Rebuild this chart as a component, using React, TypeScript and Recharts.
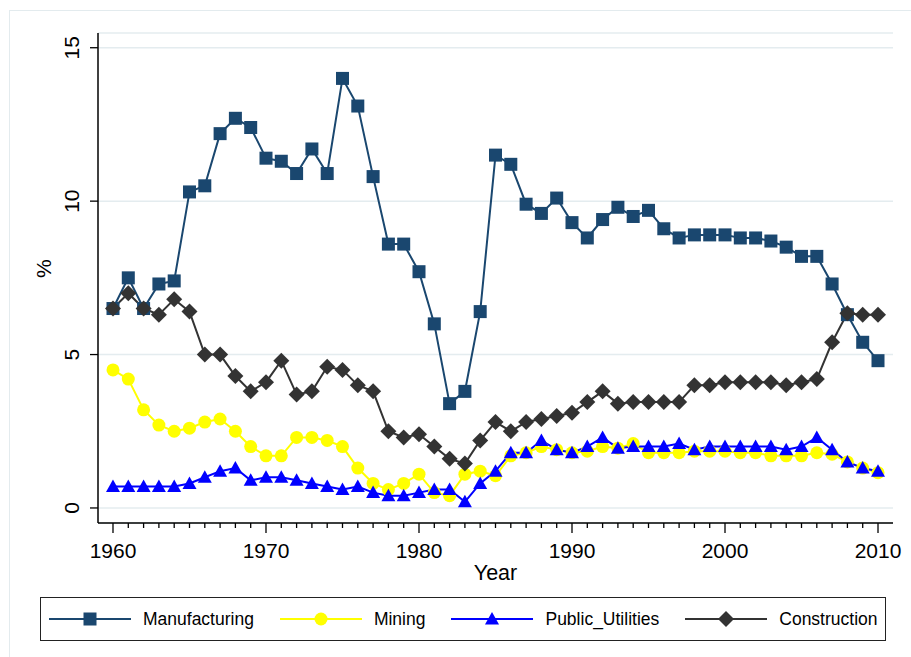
import { LineChart, Line, XAxis, YAxis, CartesianGrid, Legend } from "recharts";

// years on the x axis
const years = [
  1960, 1961, 1962, 1963, 1964, 1965, 1966, 1967, 1968, 1969,
  1970, 1971, 1972, 1973, 1974, 1975, 1976, 1977, 1978, 1979,
  1980, 1981, 1982, 1983, 1984, 1985, 1986, 1987, 1988, 1989,
  1990, 1991, 1992, 1993, 1994, 1995, 1996, 1997, 1998, 1999,
  2000, 2001, 2002, 2003, 2004, 2005, 2006, 2007, 2008, 2009, 2010,
];

const manufacturing = [
  6.5, 7.5, 6.5, 7.3, 7.4, 10.3, 10.5, 12.2, 12.7, 12.4,
  11.4, 11.3, 10.9, 11.7, 10.9, 14.0, 13.1, 10.8, 8.6, 8.6,
  7.7, 6.0, 3.4, 3.8, 6.4, 11.5, 11.2, 9.9, 9.6, 10.1,
  9.3, 8.8, 9.4, 9.8, 9.5, 9.7, 9.1, 8.8, 8.9, 8.9,
  8.9, 8.8, 8.8, 8.7, 8.5, 8.2, 8.2, 7.3, 6.3, 5.4, 4.8,
];

const mining = [
  4.5, 4.2, 3.2, 2.7, 2.5, 2.6, 2.8, 2.9, 2.5, 2.0,
  1.7, 1.7, 2.3, 2.3, 2.2, 2.0, 1.3, 0.8, 0.6, 0.8,
  1.1, 0.5, 0.4, 1.1, 1.2, 1.05, 1.7, 1.8, 2.0, 1.9,
  1.8, 1.85, 2.0, 1.95, 2.1, 1.8, 1.8, 1.8, 1.85, 1.85,
  1.85, 1.8, 1.8, 1.7, 1.7, 1.7, 1.8, 1.75, 1.5, 1.3, 1.15,
];

const publicUtilities = [
  0.7, 0.7, 0.7, 0.7, 0.7, 0.8, 1.0, 1.2, 1.3, 0.9,
  1.0, 1.0, 0.9, 0.8, 0.7, 0.6, 0.7, 0.5, 0.4, 0.4,
  0.5, 0.6, 0.6, 0.2, 0.8, 1.2, 1.8, 1.8, 2.2, 1.9,
  1.8, 2.0, 2.3, 1.95, 2.0, 2.0, 2.0, 2.1, 1.9, 2.0,
  2.0, 2.0, 2.0, 2.0, 1.9, 2.0, 2.3, 1.9, 1.5, 1.3, 1.2,
];

const construction = [
  6.5, 7.0, 6.5, 6.3, 6.8, 6.4, 5.0, 5.0, 4.3, 3.8,
  4.1, 4.8, 3.7, 3.8, 4.6, 4.5, 4.0, 3.8, 2.5, 2.3,
  2.4, 2.0, 1.6, 1.45, 2.2, 2.8, 2.5, 2.8, 2.9, 3.0,
  3.1, 3.45, 3.8, 3.4, 3.45, 3.45, 3.45, 3.45, 4.0, 4.0,
  4.1, 4.1, 4.1, 4.1, 4.0, 4.1, 4.2, 5.4, 6.35, 6.3, 6.3,
];

const yTicks = [0, 5, 10, 15];

const data = years.map((year, i) => ({
  year,
  Manufacturing: manufacturing[i],
  Mining: mining[i],
  Public_Utilities: publicUtilities[i],
  Construction: construction[i],
}));

const FONT = "'Liberation Sans', Arial, Helvetica, sans-serif";

type Shape = "square" | "circle" | "triangle" | "diamond";

const series: { key: string; color: string; shape: Shape }[] = [
  { key: "Manufacturing", color: "#1a476f", shape: "square" },
  { key: "Mining", color: "#ffff00", shape: "circle" },
  { key: "Public_Utilities", color: "#0000ff", shape: "triangle" },
  { key: "Construction", color: "#333333", shape: "diamond" },
];

const marker = (shape: Shape, cx: number, cy: number, color: string, key?: any) => {
  if (shape === "square")
    return <rect key={key} x={cx - 6.5} y={cy - 6.5} width={13} height={13} fill={color} />;
  if (shape === "circle")
    return <circle key={key} cx={cx} cy={cy} r={6.5} fill={color} />;
  if (shape === "triangle")
    return (
      <polygon
        key={key}
        points={`${cx},${cy - 7} ${cx - 7},${cy + 5.5} ${cx + 7},${cy + 5.5}`}
        fill={color}
      />
    );
  return (
    <polygon
      key={key}
      points={`${cx},${cy - 8} ${cx + 8},${cy} ${cx},${cy + 8} ${cx - 8},${cy}`}
      fill={color}
    />
  );
};

const YearTick = (props: any) => {
  const { x, y, payload } = props;
  const major = payload.value % 10 === 0;
  return (
    <g>
      <line x1={x} x2={x} y1={y} y2={y + (major ? 10 : 5)} stroke="#000" strokeWidth={1.3} />
      {major && (
        <text x={x} y={y + 35} textAnchor="middle" fontSize={21} fontFamily={FONT} fill="#000">
          {payload.value}
        </text>
      )}
    </g>
  );
};

const PctTick = (props: any) => {
  const { x, y, payload } = props;
  const tx = x - 26;
  return (
    <g>
      <line x1={x - 8} x2={x} y1={y} y2={y} stroke="#000" strokeWidth={1.3} />
      <text
        x={tx}
        y={y}
        transform={`rotate(-90 ${tx} ${y})`}
        textAnchor="middle"
        dominantBaseline="central"
        fontSize={21}
        fontFamily={FONT}
        fill="#000"
      >
        {payload.value}
      </text>
    </g>
  );
};

const renderLegend = () => (
  <div
    style={{
      boxSizing: "border-box",
      width: "100%",
      height: "100%",
      border: "1.5px solid #222",
      display: "flex",
      alignItems: "center",
      paddingLeft: 8,
      gap: 26,
      fontFamily: FONT,
      fontSize: 17.5,
      color: "#000",
      background: "#fff",
    }}
  >
    {series.map((s) => (
      <div key={s.key} style={{ display: "flex", alignItems: "center", gap: 12 }}>
        <svg width={82} height={18}>
          <line x1={0} x2={82} y1={9} y2={9} stroke={s.color} strokeWidth={2} />
          {marker(s.shape, 41, 9, s.color)}
        </svg>
        <span>{s.key}</span>
      </div>
    ))}
  </div>
);

export default function App() {
  return (
    <div
      style={{
        position: "absolute",
        left: 0,
        top: 0,
        width: 911,
        height: 657,
        overflow: "hidden",
        background: "#fff",
      }}
    >
      <div
        style={{
          position: "absolute",
          left: 9,
          top: 10,
          width: 1000,
          height: 1000,
          border: "1px solid #e3ebee",
        }}
      />
      <div style={{ position: "absolute", left: 0, top: 0 }}>
        <LineChart
          width={911}
          height={657}
          data={data}
          margin={{ top: 33, right: 18, bottom: 74, left: 38 }}
        >
          <CartesianGrid vertical={false} stroke="#e4ecef" strokeWidth={1.5} />
          <XAxis
            type="number"
            dataKey="year"
            domain={[1959.02, 2010.98]}
            ticks={years}
            interval={0}
            height={60}
            tickSize={0}
            tickMargin={0}
            tickLine={false}
            axisLine={{ stroke: "#000", strokeWidth: 1.5 }}
            tick={<YearTick />}
            label={{
              value: "Year",
              position: "insideBottom",
              offset: 3,
              fontSize: 21.5,
              fontFamily: FONT,
              fill: "#000",
            }}
          />
          <YAxis
            type="number"
            domain={[-0.49, 15.48]}
            ticks={yTicks}
            width={60}
            tickSize={0}
            tickMargin={0}
            tickLine={false}
            axisLine={{ stroke: "#000", strokeWidth: 1.5 }}
            tick={<PctTick />}
            label={{
              value: "%",
              angle: -90,
              position: "insideLeft",
              offset: 6,
              fontSize: 21,
              fontFamily: FONT,
              fill: "#000",
            }}
          />
          {series.map((s) => (
            <Line
              key={s.key}
              type="linear"
              dataKey={s.key}
              stroke={s.color}
              strokeWidth={2}
              isAnimationActive={false}
              dot={(p: any) => marker(s.shape, p.cx, p.cy, s.color, `${s.key}-${p.index}`)}
              activeDot={false}
            />
          ))}
          <Legend
            layout="horizontal"
            verticalAlign="middle"
            align="center"
            wrapperStyle={{ position: "absolute", left: 40, top: 597, width: 846, height: 44 }}
            content={renderLegend}
          />
        </LineChart>
      </div>
    </div>
  );
}
